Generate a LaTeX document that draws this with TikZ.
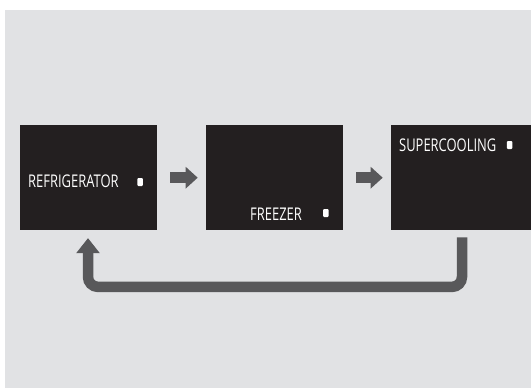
\documentclass[tikz,border=0pt]{standalone}
\usepackage{fontspec}
\newfontfamily\panelfont[FakeStretch=0.74]{Open Sans}
\usetikzlibrary{positioning, arrows.meta, calc}
\definecolor{panelbg}{HTML}{E1E2E4}
\definecolor{panelblack}{HTML}{231F20}
\definecolor{arrowgray}{HTML}{58585A}

\tikzset{
  display/.style={fill=panelblack, minimum width=137pt, minimum height=105pt, inner sep=0pt, anchor=north west},
  modetext/.style={text=white, font=\panelfont\fontsize{17.5}{19}\selectfont, inner sep=0pt, anchor=base west},
  led/.style={fill=white, rounded corners=1pt, minimum width=5.5pt, minimum height=8pt, inner sep=0pt},
  nextarrow/.style={arrowgray, line width=11pt, -{Triangle[length=12pt,width=21pt]}, shorten <=13pt, shorten >=8pt},
  backarrow/.style={arrowgray, line width=10.5pt, rounded corners=10pt, -{Triangle[length=15pt,width=22.5pt]}}
}

\begin{document}
\begin{tikzpicture}[x=1pt, y=-1pt]
\useasboundingbox (0,0) rectangle (531,388);
\fill[panelbg] (5,10) rectangle (531,388);

% Refrigerator
\node[display] (fridge) at (19.7,125) {};
\node[modetext] (fridge text) at ($(fridge.north west)+(8.3,62.5)$) {REFRIGERATOR};
\node[led] (fridge led) at ($(fridge.north east)+(-17,57)$) {};

% Freezer
\node[display] (freezer) at (205.7,125) {};
\node[modetext] (freezer text) at ($(freezer.north west)+(44.3,95)$) {FREEZER};
\node[led] (freezer led) at ($(freezer.north east)+(-17.2,88)$) {};

% Supercooling
\node[display, minimum width=140.3pt] (super) at (390.7,125) {};
\node[modetext] (super text) at ($(super.north west)+(8.3,26.5)$) {SUPERCOOLING};
\node[led] (super led) at ($(super.north west)+(118.8,20)$) {};

% Arrows
\draw[nextarrow] (fridge.east) -- (freezer.west);
\draw[nextarrow] (freezer.east) -- (super.west);
\coordinate (back start) at ($(super.south west)+(71.3,7)$);
\coordinate (back end) at ($(fridge.south west)+(68.3,7.7)$);
\draw[backarrow] (back start) -- ++(0,49.5) -| (back end);
\end{tikzpicture}
\end{document}
